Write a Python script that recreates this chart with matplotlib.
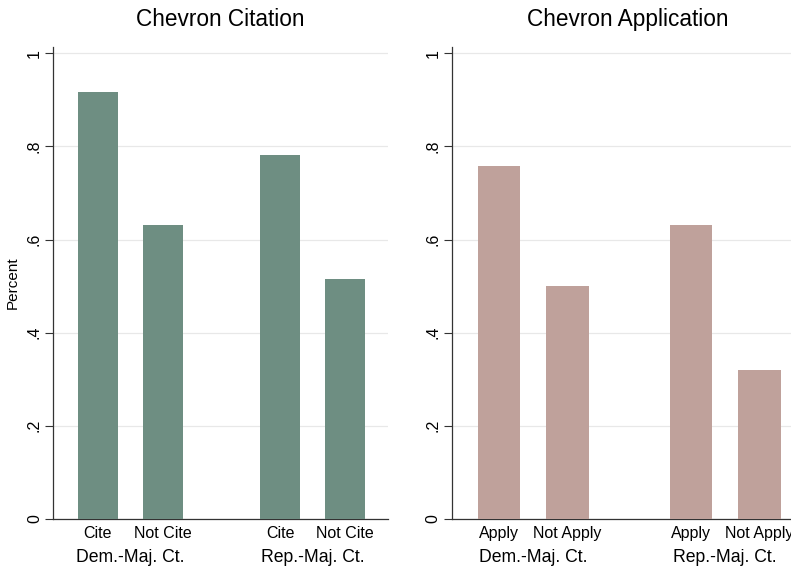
import matplotlib
matplotlib.use("Agg")
import matplotlib.pyplot as plt
from matplotlib.transforms import blended_transform_factory, ScaledTranslation

plt.rcParams['font.family'] = ['Liberation Sans', 'DejaVu Sans']

groups = ["Dem.-Maj. Ct.", "Rep.-Maj. Ct."]
cite_labels = ["Cite", "Not Cite", "Cite", "Not Cite"]
cite_values = [0.916, 0.631, 0.781, 0.515]
apply_labels = ["Apply", "Not Apply", "Apply", "Not Apply"]
apply_values = [0.757, 0.500, 0.631, 0.320]
positions = [1.0, 2.0, 3.8, 4.8]
group_centers = [1.5, 4.3]
yticks = [0, 0.2, 0.4, 0.6, 0.8, 1.0]
ytick_labels = ["0", ".2", ".4", ".6", ".8", "1"]

W, H = 791, 567
fig = plt.figure(figsize=(W / 100, H / 100), dpi=100)

def panel(rect, values, labels, color, title, ylabel=None):
    ax = fig.add_axes(rect)
    ax.bar(positions, values, width=0.615, color=color, zorder=3)
    ax.set_xlim(0.31, 5.46)
    ax.set_ylim(0, 1.014)
    ax.set_yticks(yticks)
    ax.set_yticklabels(ytick_labels, rotation=90, va='center', fontsize=11.5)
    ax.tick_params(axis='y', length=6, width=0.8, color='#333333', pad=2)
    ax.set_xticks([])
    for s in ['top', 'right']:
        ax.spines[s].set_visible(False)
    for s in ['left', 'bottom']:
        ax.spines[s].set_color('#333333')
        ax.spines[s].set_linewidth(0.9)
    ax.yaxis.grid(True, color='#e8e8e8', linewidth=0.9, zorder=0)
    ax.set_axisbelow(True)
    trans = blended_transform_factory(ax.transData, ax.transAxes)
    for p, lab in zip(positions, labels):
        ax.text(p, 0, lab, transform=trans + ScaledTranslation(0, -0.145, fig.dpi_scale_trans),
                ha='center', va='center', fontsize=11.5, clip_on=False)
    for c, g in zip(group_centers, groups):
        ax.text(c, 0, g, transform=trans + ScaledTranslation(0, -0.39, fig.dpi_scale_trans),
                ha='center', va='center', fontsize=12.7, clip_on=False)
    ax.set_title(title, fontsize=16.3, pad=15)
    if ylabel:
        ax.set_ylabel(ylabel, fontsize=11, labelpad=5)
    return ax

panel([53 / W, 48 / H, 335 / W, 472.3 / H], cite_values, cite_labels, '#6e8e82',
      "Chevron Citation", ylabel="Percent")
panel([451.7 / W, 48 / H, 353 / W, 472.3 / H], apply_values, apply_labels, '#bfa19b',
      "Chevron Application")

fig.savefig("out.png", dpi=100)
